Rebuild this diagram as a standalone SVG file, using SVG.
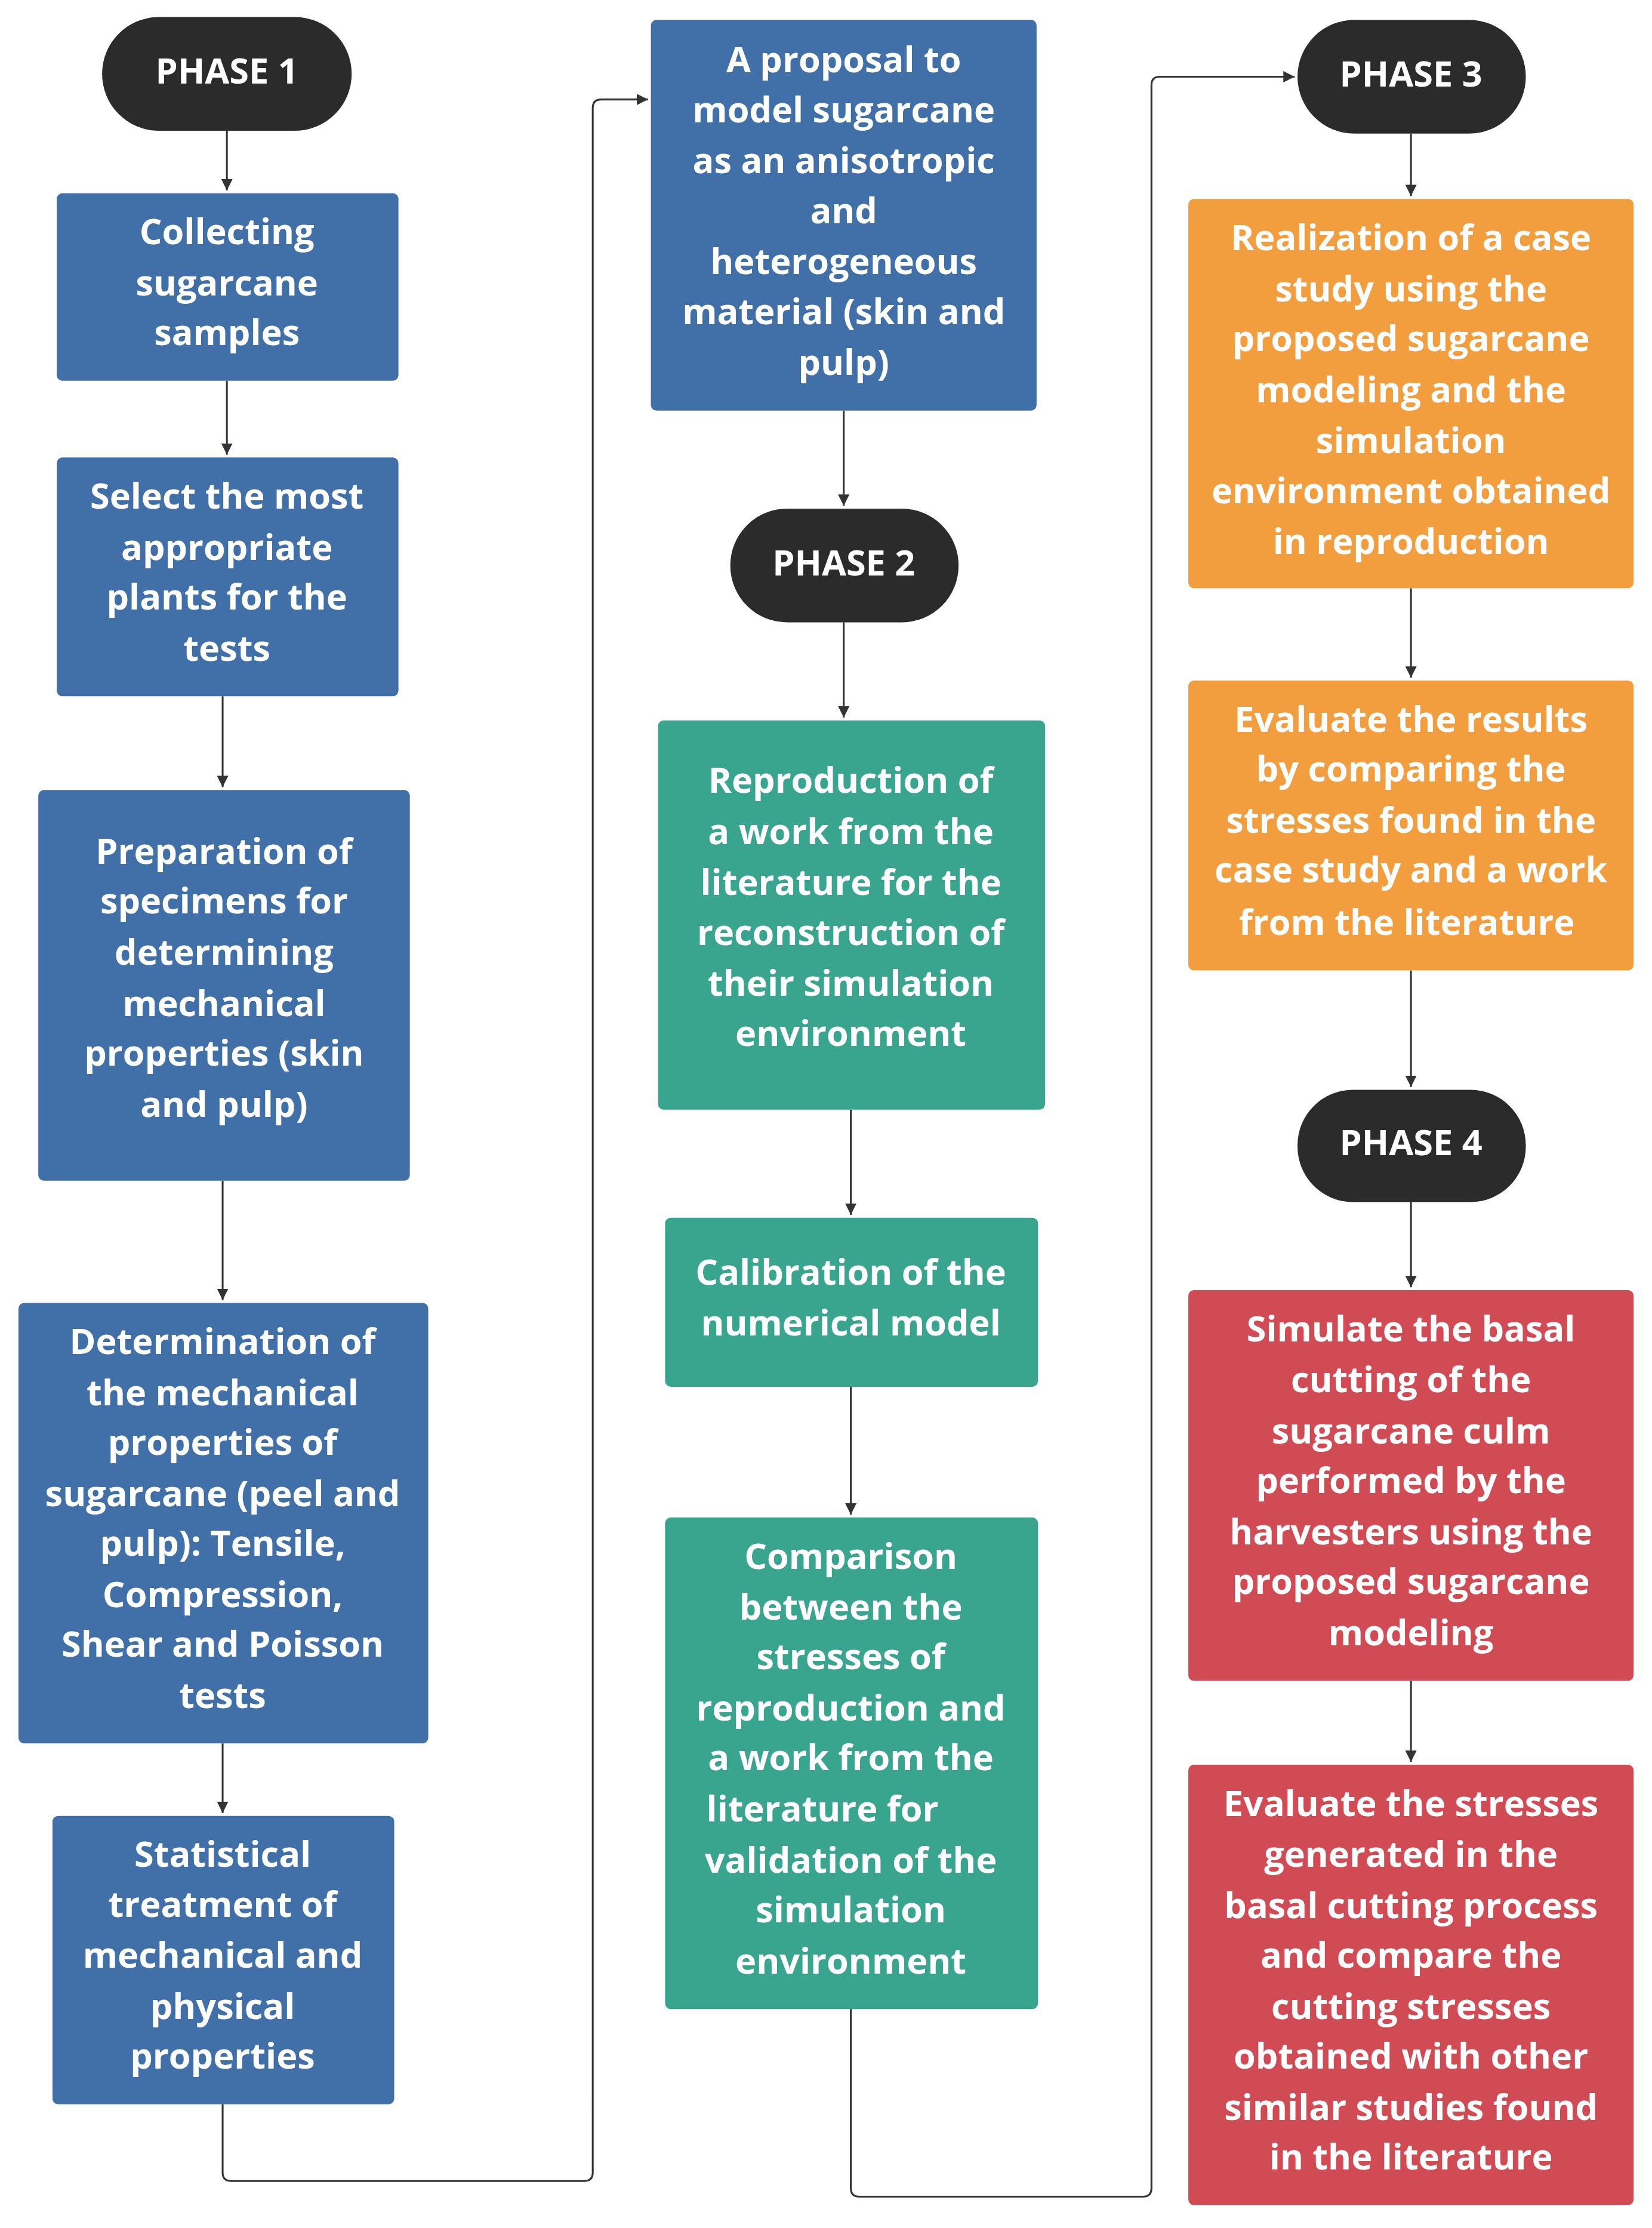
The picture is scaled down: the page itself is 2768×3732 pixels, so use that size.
<svg xmlns="http://www.w3.org/2000/svg" width="2768" height="3732" viewBox="0 0 2768 3732">
<defs>
<style>
.t{font-family:"Open Sans","Liberation Sans",sans-serif;font-weight:bold;font-size:25px;fill:#fff;text-anchor:middle}
.c{fill:none;stroke:#333;stroke-width:1.3}
.b{fill:#4170a8}.g{fill:#3aa58e}.o{fill:#f29e3e}.r{fill:#d14b55}.p{fill:#2b2b2b}
</style>
<marker id="a" viewBox="0 0 10 10" refX="10" refY="5" markerWidth="8" markerHeight="8" markerUnits="userSpaceOnUse" orient="auto"><path d="M0,0L10,5L0,10z" fill="#333"/></marker>
</defs>
<rect width="2768" height="3732" fill="#fff"/>
<g transform="scale(2.376,2.38)">
<g id="connectors" marker-end="url(#a)">
<path class="c" d="M160,92V134"/>
<path class="c" d="M160,268V320"/>
<path class="c" d="M157,490V554"/>
<path class="c" d="M157,831V915"/>
<path class="c" d="M157,1227V1276"/>
<path class="c" d="M157,1481V1529Q157,1535 163,1535H412Q418,1535 418,1529V76Q418,70 424,70H457"/>
<path class="c" d="M595,289V356"/>
<path class="c" d="M595,438V505"/>
<path class="c" d="M600,781V855"/>
<path class="c" d="M600,976V1066"/>
<path class="c" d="M600,1414V1540Q600,1546 606,1546H806Q812,1546 812,1540V60Q812,54 818,54H913"/>
<path class="c" d="M995,94V138"/>
<path class="c" d="M995,414V477"/>
<path class="c" d="M995,683V765"/>
<path class="c" d="M995,846V906"/>
<path class="c" d="M995,1183V1240"/>
</g>
<g id="phase1"><rect class="p" x="72" y="12" width="176" height="80" rx="40"/><text class="t" x="160" y="59">PHASE 1</text></g>
<g id="collecting"><rect class="b" x="40" y="136" width="241" height="132" rx="4"/><text class="t" x="160" y="172">Collecting</text><text class="t" x="160" y="208">sugarcane</text><text class="t" x="160" y="243">samples</text></g>
<g id="select"><rect class="b" x="40" y="322" width="241" height="168" rx="4"/><text class="t" x="160" y="358">Select the most</text><text class="t" x="160" y="394">appropriate</text><text class="t" x="160" y="429">plants for the</text><text class="t" x="160" y="465">tests</text></g>
<g id="preparation"><rect class="b" x="27" y="556" width="262" height="275" rx="4"/><text class="t" x="158" y="608">Preparation of</text><text class="t" x="158" y="643">specimens for</text><text class="t" x="158" y="679">determining</text><text class="t" x="158" y="715">mechanical</text><text class="t" x="158" y="750">properties (skin</text><text class="t" x="158" y="786">and pulp)</text></g>
<g id="determination"><rect class="b" x="13" y="917" width="289" height="310" rx="4"/><text class="t" x="157" y="953">Determination of</text><text class="t" x="157" y="989">the mechanical</text><text class="t" x="157" y="1024">properties of</text><text class="t" x="157" y="1060">sugarcane (peel and</text><text class="t" x="157" y="1095">pulp): Tensile,</text><text class="t" x="157" y="1131">Compression,</text><text class="t" x="157" y="1166">Shear and Poisson</text><text class="t" x="157" y="1202">tests</text></g>
<g id="statistical"><rect class="b" x="37" y="1278" width="241" height="203" rx="4"/><text class="t" x="157" y="1314">Statistical</text><text class="t" x="157" y="1349">treatment of</text><text class="t" x="157" y="1385">mechanical and</text><text class="t" x="157" y="1421">physical</text><text class="t" x="157" y="1456">properties</text></g>
<g id="proposal"><rect class="b" x="459" y="14" width="272" height="275" rx="4"/><text class="t" x="595" y="51">A proposal to</text><text class="t" x="595" y="86">model sugarcane</text><text class="t" x="595" y="122">as an anisotropic</text><text class="t" x="595" y="157">and</text><text class="t" x="595" y="193">heterogeneous</text><text class="t" x="595" y="228">material (skin and</text><text class="t" x="595" y="264">pulp)</text></g>
<g id="phase2"><rect class="p" x="515" y="358" width="161" height="80" rx="40"/><text class="t" x="595" y="405">PHASE 2</text></g>
<g id="reproduction"><rect class="g" x="464" y="507" width="273" height="274" rx="4"/><text class="t" x="600" y="558">Reproduction of</text><text class="t" x="600" y="594">a  work  from the</text><text class="t" x="600" y="630">literature  for the</text><text class="t" x="600" y="665">reconstruction of</text><text class="t" x="600" y="701">their simulation</text><text class="t" x="600" y="736">environment</text></g>
<g id="calibration"><rect class="g" x="469" y="857" width="263" height="119" rx="4"/><text class="t" x="600" y="904">Calibration of the</text><text class="t" x="600" y="940">numerical model</text></g>
<g id="comparison"><rect class="g" x="469" y="1068" width="263" height="346" rx="4"/><text class="t" x="600" y="1104">Comparison</text><text class="t" x="600" y="1140">between the</text><text class="t" x="600" y="1175">stresses of</text><text class="t" x="600" y="1211">reproduction and</text><text class="t" x="600" y="1246">a  work  from the</text><text class="t" x="580" y="1282">literature for</text><text class="t" x="600" y="1318">validation of the</text><text class="t" x="600" y="1353">simulation</text><text class="t" x="600" y="1389">environment</text></g>
<g id="phase3"><rect class="p" x="915" y="14" width="161" height="80" rx="40"/><text class="t" x="995" y="61">PHASE 3</text></g>
<g id="realization"><rect class="o" x="838" y="140" width="314" height="274" rx="4"/><text class="t" x="995" y="176">Realization of a case</text><text class="t" x="995" y="212">study using the</text><text class="t" x="995" y="247">proposed sugarcane</text><text class="t" x="995" y="283">modeling and the</text><text class="t" x="995" y="319">simulation</text><text class="t" x="995" y="354">environment obtained</text><text class="t" x="995" y="390">in reproduction</text></g>
<g id="evaluate-results"><rect class="o" x="838" y="479" width="314" height="204" rx="4"/><text class="t" x="995" y="515">Evaluate the results</text><text class="t" x="995" y="550">by comparing the</text><text class="t" x="995" y="586">stresses found in the</text><text class="t" x="995" y="621">case study and  a  work</text><text class="t" x="992" y="658">from the literature</text></g>
<g id="phase4"><rect class="p" x="915" y="767" width="161" height="79" rx="39"/><text class="t" x="995" y="813">PHASE 4</text></g>
<g id="simulate"><rect class="r" x="838" y="908" width="314" height="275" rx="4"/><text class="t" x="995" y="944">Simulate the basal</text><text class="t" x="995" y="980">cutting of the</text><text class="t" x="995" y="1016">sugarcane culm</text><text class="t" x="995" y="1051">performed by the</text><text class="t" x="995" y="1087">harvesters using the</text><text class="t" x="995" y="1122">proposed sugarcane</text><text class="t" x="995" y="1158">modeling</text></g>
<g id="evaluate-stresses"><rect class="r" x="838" y="1242" width="314" height="310" rx="4"/><text class="t" x="995" y="1278">Evaluate the stresses</text><text class="t" x="995" y="1314">generated in the</text><text class="t" x="995" y="1350">basal cutting process</text><text class="t" x="995" y="1385">and compare the</text><text class="t" x="995" y="1421">cutting stresses</text><text class="t" x="995" y="1456">obtained with other</text><text class="t" x="995" y="1492">similar studies found</text><text class="t" x="995" y="1527">in the literature</text></g>
</g>
</svg>
